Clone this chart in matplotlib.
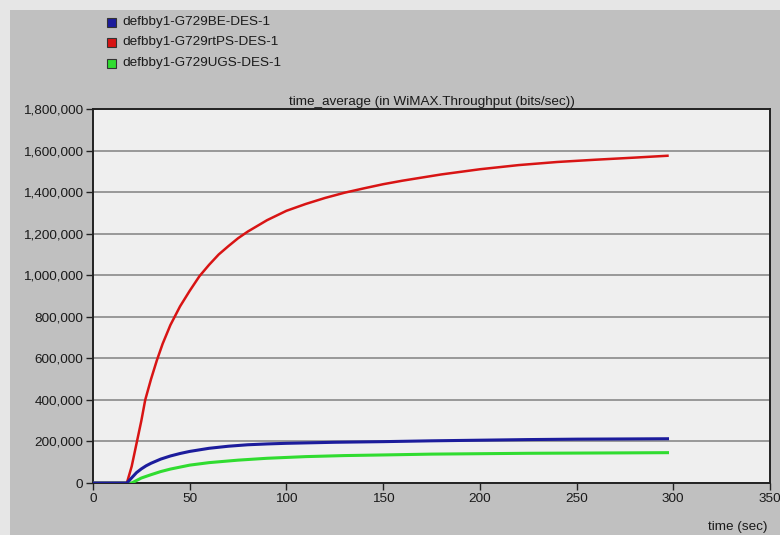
import matplotlib
matplotlib.use("Agg")
import matplotlib.pyplot as plt
from matplotlib.patches import Rectangle
from matplotlib.ticker import FuncFormatter

""" data read off the OPNET screenshot """

series_names = ["defbby1-G729BE-DES-1", "defbby1-G729rtPS-DES-1", "defbby1-G729UGS-DES-1"]
series_colors = ["#1c1c9c", "#d81414", "#30dc30"]

t_be = [0, 17.5, 20, 22.5, 25, 27.5, 30, 35, 40, 45, 50, 60, 70, 80, 90, 100, 125, 150, 175, 200,
        225, 250, 275, 297]
be = [0, 0, 25e3, 50e3, 68e3, 83e3, 95e3, 115e3, 130e3, 142e3, 152e3, 167e3, 177e3, 184e3,
      188e3, 191e3, 196e3, 199e3, 203e3, 206e3, 209e3, 211e3, 212e3, 213e3]

t_rtps = [0, 17.5, 20, 22.5, 25, 27, 30, 33, 36, 40, 45, 50, 55, 60, 65, 70, 75, 80, 90, 100, 110,
          120, 130, 140, 150, 160, 180, 200, 220, 240, 260, 280, 297]
rtps = [0, 0, 80e3, 190e3, 300e3, 400e3, 500e3, 590e3, 670e3, 760e3, 850e3, 925e3, 995e3, 1.05e6,
        1.1e6, 1.14e6, 1.178e6, 1.21e6, 1.265e6, 1.31e6, 1.343e6, 1.372e6, 1.397e6, 1.418e6,
        1.438e6, 1.455e6, 1.485e6, 1.51e6, 1.53e6, 1.545e6, 1.556e6, 1.566e6, 1.575e6]

t_ugs = [0, 20, 22.5, 25, 30, 35, 40, 50, 60, 75, 90, 110, 130, 150, 175, 200, 225, 250, 275, 297]
ugs = [0, 0, 12e3, 24e3, 40e3, 55e3, 67e3, 86e3, 98e3, 110e3, 119e3, 127e3, 132e3, 135e3,
       139e3, 141e3, 143e3, 144e3, 145e3, 146e3]

x_ticks = [0, 50, 100, 150, 200, 250, 300, 350]
y_ticks = [0, 200e3, 400e3, 600e3, 800e3, 1.0e6, 1.2e6, 1.4e6, 1.6e6, 1.8e6]

title = "time_average (in WiMAX.Throughput (bits/sec))"
xlabel = "time (sec)"

plt.rcParams['font.family'] = ['Liberation Sans', 'DejaVu Sans']
fs = 9.7

W, H = 780, 535
fig = plt.figure(figsize=(W / 100, H / 100), dpi=100, facecolor="#c0c0c0")

# light strips at the top and left edge (outside the OPNET panel)
fig.patches.append(Rectangle((0, 1 - 10 / H), 1, 10 / H, transform=fig.transFigure,
                             facecolor="#e6e6e6", edgecolor="none", zorder=0))
fig.patches.append(Rectangle((0, 0), 10 / W, 1, transform=fig.transFigure,
                             facecolor="#e6e6e6", edgecolor="none", zorder=0))

ax = fig.add_axes([93 / W, 52 / H, 677 / W, 374 / H])
ax.set_facecolor("#efefef")

ax.plot(t_ugs, ugs, color=series_colors[2], lw=2.2, zorder=3)
ax.plot(t_rtps, rtps, color=series_colors[1], lw=1.8, zorder=4)
ax.plot(t_be, be, color=series_colors[0], lw=2.2, zorder=5)

ax.set_xlim(0, 350)
ax.set_ylim(0, 1.8e6)
ax.set_xticks(x_ticks)
ax.set_yticks(y_ticks)
ax.yaxis.set_major_formatter(FuncFormatter(lambda v, p: f"{int(v):,}"))
ax.grid(axis="y", color="#8a8a8a", lw=1.2)
ax.set_axisbelow(True)
for s in ax.spines.values():
    s.set_color("#222222")
    s.set_linewidth(1.4)
ax.tick_params(direction="out", length=5, width=1, colors="#222222",
               labelsize=fs, labelcolor="#1a1a1a", pad=2)

ax.set_title(title, fontsize=fs, color="#1a1a1a", pad=3)
fig.text(767 / W, 1 - 527 / H, xlabel, ha="right", va="center", fontsize=fs, color="#1a1a1a")

# legend squares in the top left corner
for i, name in enumerate(series_names):
    yc = 22 + 20.5 * i
    fig.patches.append(Rectangle((107 / W, 1 - (yc + 4.5) / H), 9 / W, 9 / H,
                                 transform=fig.transFigure, facecolor=series_colors[i],
                                 edgecolor="#333333", lw=0.8))
    fig.text(122 / W, 1 - yc / H, name, ha="left", va="center", fontsize=fs, color="#1a1a1a")

fig.savefig("out.png", dpi=100, facecolor=fig.get_facecolor())
